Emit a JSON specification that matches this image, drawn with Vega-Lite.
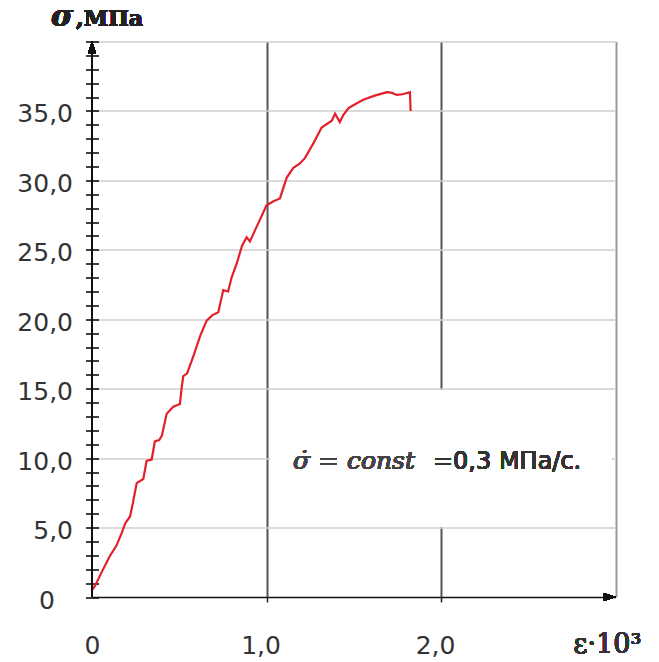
{
  "$schema": "https://vega.github.io/schema/vega-lite/v6.json",
  "width": 523.5,
  "height": 555.5,
  "autosize": {"type": "none"},
  "padding": {"left": 92, "top": 41.5, "right": 43.5, "bottom": 65},
  "background": "white",
  "config": {"view": {"stroke": null}},
  "data": {
    "values": [
      {"e": 0.0, "s": 0.5}, {"e": 0.017, "s": 0.8}, {"e": 0.06, "s": 1.9}, {"e": 0.1, "s": 2.9},
      {"e": 0.14, "s": 3.7}, {"e": 0.17, "s": 4.6}, {"e": 0.19, "s": 5.3}, {"e": 0.218, "s": 5.8},
      {"e": 0.235, "s": 6.8}, {"e": 0.256, "s": 8.2}, {"e": 0.294, "s": 8.5}, {"e": 0.313, "s": 9.8},
      {"e": 0.342, "s": 9.9}, {"e": 0.36, "s": 11.2}, {"e": 0.385, "s": 11.3}, {"e": 0.4, "s": 11.6},
      {"e": 0.428, "s": 13.2}, {"e": 0.466, "s": 13.7}, {"e": 0.504, "s": 13.9}, {"e": 0.514, "s": 15.1},
      {"e": 0.523, "s": 15.9}, {"e": 0.545, "s": 16.1}, {"e": 0.58, "s": 17.3}, {"e": 0.62, "s": 18.8},
      {"e": 0.657, "s": 19.9}, {"e": 0.69, "s": 20.3}, {"e": 0.724, "s": 20.5}, {"e": 0.752, "s": 22.1},
      {"e": 0.78, "s": 22.0}, {"e": 0.8, "s": 23.0}, {"e": 0.829, "s": 24.0}, {"e": 0.86, "s": 25.3},
      {"e": 0.886, "s": 25.9}, {"e": 0.905, "s": 25.6}, {"e": 0.934, "s": 26.4}, {"e": 0.96, "s": 27.1},
      {"e": 1.0, "s": 28.2}, {"e": 1.04, "s": 28.5}, {"e": 1.077, "s": 28.7}, {"e": 1.116, "s": 30.2},
      {"e": 1.154, "s": 30.9}, {"e": 1.19, "s": 31.2}, {"e": 1.22, "s": 31.6}, {"e": 1.27, "s": 32.7},
      {"e": 1.316, "s": 33.8}, {"e": 1.374, "s": 34.3}, {"e": 1.393, "s": 34.8}, {"e": 1.42, "s": 34.2},
      {"e": 1.44, "s": 34.7}, {"e": 1.47, "s": 35.2}, {"e": 1.51, "s": 35.5}, {"e": 1.555, "s": 35.8},
      {"e": 1.62, "s": 36.1}, {"e": 1.69, "s": 36.35}, {"e": 1.72, "s": 36.3}, {"e": 1.746, "s": 36.15},
      {"e": 1.78, "s": 36.2}, {"e": 1.822, "s": 36.35}, {"e": 1.826, "s": 35.0}
    ]
  },
  "layer": [
    {
      "mark": {"type": "line", "color": "#e3202a", "strokeWidth": 2.2},
      "encoding": {
        "x": {
          "field": "e", "type": "quantitative",
          "scale": {"domain": [0, 3], "nice": false},
          "axis": {
            "title": null,
            "values": [0, 1, 2, 3],
            "labelFlush": false,
            "domain": true, "domainColor": "#111", "domainWidth": 1.6,
            "ticks": true, "tickSize": 5, "tickColor": "#222", "tickWidth": 1.5,
            "tickOpacity": {"condition": {"test": "datum.value == 1 || datum.value == 2", "value": 1}, "value": 0},
            "grid": true,
            "gridColor": {"condition": {"test": "datum.value == 3", "value": "#9a9a9a"}, "value": "#555555"},
            "gridOpacity": {"condition": {"test": "datum.value == 0", "value": 0}, "value": 1},
            "gridWidth": 2,
            "labelExpr": "datum.value == 0 ? '0' : (datum.value == 3 ? '' : replace(format(datum.value, '.1f'), '.', ','))",
            "labelFont": "DejaVu Sans", "labelFontSize": 25, "labelColor": "#333",
            "labelPadding": 31, "labelBaseline": "top", "labelOverlap": false,
            "labelOffset": {"condition": {"test": "datum.value == 0", "value": 0}, "value": -6}
          }
        },
        "y": {
          "field": "s", "type": "quantitative",
          "scale": {"domain": [0, 40], "nice": false},
          "axis": {
            "title": null,
            "tickCount": 100,
            "values": [0,1,2,3,4,5,6,7,8,9,10,11,12,13,14,15,16,17,18,19,20,21,22,23,24,25,26,27,28,29,30,31,32,33,34,35,36,37,38,39,40],
            "labelFlush": false, "labelOverlap": false,
            "domain": false, "offset": -6.5,
            "ticks": true, "tickSize": 13, "tickColor": "#111", "tickWidth": 1.6,
            "grid": true, "gridColor": "#cfcfcf", "gridWidth": 1.5,
            "gridOpacity": {"condition": {"test": "datum.value % 5 == 0 && datum.value > 0", "value": 1}, "value": 0},
            "labelExpr": "datum.value % 5 != 0 || datum.value == 40 ? '' : (datum.value == 0 ? '0' : replace(format(datum.value, '.1f'), '.', ','))",
            "labelFont": "DejaVu Sans", "labelFontSize": 25, "labelColor": "#333",
            "labelPadding": {"condition": {"test": "datum.value == 0", "value": 31}, "value": 13},
            "labelOffset": 3
          }
        }
      }
    },
    {
      "mark": {"type": "rect", "fill": "white", "stroke": null},
      "encoding": {
        "x": {"datum": 1.022, "type": "quantitative", "scale": {"domain": [0, 3], "nice": false}},
        "x2": {"datum": 2.975},
        "y": {"datum": 5.1, "type": "quantitative", "scale": {"domain": [0, 40], "nice": false}},
        "y2": {"datum": 14.9}
      }
    },
    {
      "mark": {"type": "rule", "color": "#111", "strokeWidth": 1.6},
      "encoding": {
        "x": {"datum": 0, "type": "quantitative", "scale": {"domain": [0, 3], "nice": false}},
        "y": {"datum": 0, "type": "quantitative", "scale": {"domain": [0, 40], "nice": false}},
        "y2": {"datum": 40}
      }
    },
    {
      "mark": {"type": "point", "shape": "M-1.2,-0.4L0,0L-1.2,0.4Z", "size": 400, "filled": true, "color": "#111", "opacity": 1},
      "encoding": {
        "x": {"datum": 3, "type": "quantitative", "scale": {"domain": [0, 3], "nice": false}},
        "y": {"datum": 0, "type": "quantitative", "scale": {"domain": [0, 40], "nice": false}}
      }
    },
    {
      "mark": {"type": "point", "shape": "M-0.4,1.2L0,0L0.4,1.2Z", "size": 400, "filled": true, "color": "#111", "opacity": 1},
      "encoding": {
        "x": {"datum": 0, "type": "quantitative", "scale": {"domain": [0, 3], "nice": false}},
        "y": {"datum": 40, "type": "quantitative", "scale": {"domain": [0, 40], "nice": false}}
      }
    },
    {
      "mark": {"type": "text", "text": "σ̇ = const", "font": "DejaVu Serif", "fontStyle": "italic", "fontSize": 25, "color": "#444", "align": "left", "baseline": "alphabetic"},
      "encoding": {
        "x": {"datum": 1.152, "type": "quantitative", "scale": {"domain": [0, 3], "nice": false}},
        "y": {"datum": 9.2, "type": "quantitative", "scale": {"domain": [0, 40], "nice": false}}
      }
    },
    {
      "mark": {"type": "text", "text": "=0,3 МПа/с.", "font": "DejaVu Sans", "fontSize": 24, "color": "#333", "align": "left", "baseline": "alphabetic"},
      "encoding": {
        "x": {"datum": 1.954, "type": "quantitative", "scale": {"domain": [0, 3], "nice": false}},
        "y": {"datum": 9.2, "type": "quantitative", "scale": {"domain": [0, 40], "nice": false}}
      }
    },
    {
      "mark": {"type": "text", "text": "ε·10³", "font": "DejaVu Serif", "fontSize": 27, "color": "#333", "align": "left", "baseline": "alphabetic", "dx": -42, "dy": 56},
      "encoding": {
        "x": {"datum": 3, "type": "quantitative", "scale": {"domain": [0, 3], "nice": false}},
        "y": {"datum": 0, "type": "quantitative", "scale": {"domain": [0, 40], "nice": false}}
      }
    },
    {
      "mark": {"type": "text", "text": "σ", "font": "DejaVu Serif", "fontStyle": "italic", "fontWeight": "bold", "fontSize": 30, "color": "#222", "align": "left", "baseline": "alphabetic", "dx": -41, "dy": -16},
      "encoding": {
        "x": {"datum": 0, "type": "quantitative", "scale": {"domain": [0, 3], "nice": false}},
        "y": {"datum": 40, "type": "quantitative", "scale": {"domain": [0, 40], "nice": false}}
      }
    },
    {
      "mark": {"type": "text", "text": ",МПа", "font": "DejaVu Serif", "fontWeight": "bold", "fontSize": 22, "color": "#222", "align": "left", "baseline": "alphabetic", "dx": -16, "dy": -16},
      "encoding": {
        "x": {"datum": 0, "type": "quantitative", "scale": {"domain": [0, 3], "nice": false}},
        "y": {"datum": 40, "type": "quantitative", "scale": {"domain": [0, 40], "nice": false}}
      }
    }
  ]
}
